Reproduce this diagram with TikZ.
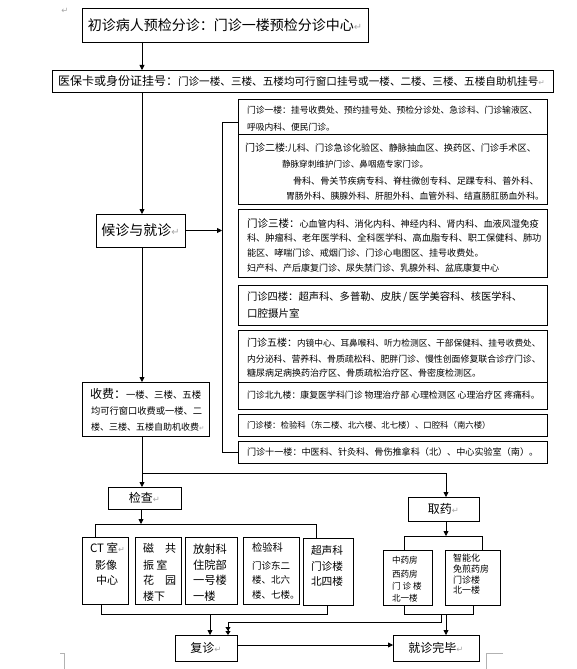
\documentclass[tikz,border=0pt]{standalone}
\usepackage{fontspec}
\usepackage{graphicx}
\setmainfont{Noto Sans CJK SC}
\newfontfamily\dvfont{DejaVu Sans}
\usetikzlibrary{arrows.meta}
\newcommand{\fsz}[1]{\fontsize{#1pt}{#1pt}\selectfont}
\newcommand{\parmark}{{\dvfont\color{gray!70}\scalebox{0.7}{↵}}}
\tikzset{
  box/.style={draw, line width=0.8pt, anchor=north west, inner sep=0pt, outer sep=0pt},
  tx/.style={anchor=west, inner sep=0pt, outer sep=0pt},
  ln/.style={line width=0.8pt},
  arr/.style={line width=0.8pt, -{Triangle[length=5pt,width=5pt]}},
  dblarr/.style={line width=0.8pt, -{Triangle[length=4pt,width=5pt]Triangle[length=4pt,width=5pt]}},
  pagemark/.style={line width=0.6pt, gray!60}
}
\begin{document}
\begin{tikzpicture}[x=1pt,y=-1pt]
\useasboundingbox (0,0) rectangle (577,669);
% junction coordinates
\coordinate (cx) at (142,0);
\coordinate (bx) at (222,232);
\coordinate (bt) at (222,122);
\coordinate (bb) at (222,452);
\coordinate (j1) at (142,473);
\coordinate (qx) at (446,0);
\coordinate (ex) at (141,524);
\coordinate (s1l) at (95,524);
\coordinate (s1r) at (316,524);
\coordinate (m1l) at (101,614);
\coordinate (m1r) at (327,614);
\coordinate (mf) at (210,614);
\coordinate (qs) at (446,536);
\coordinate (q1l) at (404,536);
\coordinate (q1r) at (482,536);
\coordinate (q2l) at (404,614);
\coordinate (q2r) at (473,614);
\coordinate (qm) at (446,614);
\coordinate (rb1) at (441,614);
\coordinate (rb2) at (441,622);
\coordinate (rb3) at (228,622);
\coordinate (hy) at (0,645);

% page marks
\node[inner sep=0pt] (pm0) at (65,11) {\fsz{12}\parmark};
\draw[pagemark] (60,653) -- (64,653) -- (64,669);
\draw[pagemark] (503,653) -- (486,653) -- (486,669);

% main column
\node[box, minimum width=286pt, minimum height=34pt, font=\fsz{14}] (n1) at (82,8) {\raisebox{-2pt}{初诊病人预检分诊：门诊一楼预检分诊中心\parmark}};
\node[box, minimum width=501pt, minimum height=22pt] (n2) at (52,70) {};
\node[tx] (n2t) at (58,81) {{\fsz{12}医保卡或身份证挂号：}{\fsz{10.6}门诊一楼、三楼、五楼均可行窗口挂号或一楼、二楼、三楼、五楼自助机挂号}{\fsz{11}\parmark}};
\node[box, minimum width=89pt, minimum height=33pt, font=\fsz{14}] (n3) at (96,214) {\raisebox{-1pt}{候诊与就诊\parmark}};
\node[box, minimum width=127pt, minimum height=54pt] (n4) at (82,382) {};
\node[tx] (n4a) at (90,394) {{\fsz{12}收费：}{\fsz{9.4}一楼、三楼、五楼}};
\node[tx, font=\fsz{9.25}] (n4b) at (91,411) {均可行窗口收费或一楼、二};
\node[tx, font=\fsz{9}] (n4c) at (91,427) {楼、三楼、五楼自助机收费\parmark};

% right column
\node[box, minimum width=309pt, minimum height=35pt] (r1) at (238,99) {};
\node[box, minimum width=309pt, minimum height=70pt] (r2) at (238,134) {};
\node[box, minimum width=309pt, minimum height=68pt] (r3) at (238,209) {};
\node[box, minimum width=309pt, minimum height=40pt] (r4) at (238,285) {};
\node[box, minimum width=309pt, minimum height=52pt] (r5) at (238,330) {};
\node[box, minimum width=309pt, minimum height=27pt] (r6) at (238,382) {};
\node[box, minimum width=309pt, minimum height=22pt] (r7) at (238,414) {};
\node[box, minimum width=309pt, minimum height=22pt] (r8) at (238,441) {};

\node[tx, font=\fsz{8.8}] (r1a) at (247,110) {门诊一楼：挂号收费处、预约挂号处、预检分诊处、急诊科、门诊输液区、};
\node[tx, font=\fsz{8.8}] (r1b) at (247,127) {呼吸内科、便民门诊。};

\node[tx] (r2a) at (245,148) {{\fsz{10}门诊二楼}{\fsz{9.2}:儿科、门诊急诊化验区、静脉抽血区、换药区、门诊手术区、}};
\node[tx, font=\fsz{8.6}] (r2b) at (282,164) {静脉穿刺维护门诊、鼻咽癌专家门诊。};
\node[tx, font=\fsz{9.1}] (r2c) at (293,181) {骨科、骨关节疾病专科、脊柱微创专科、足踝专科、普外科、};
\node[tx, font=\fsz{8.9}] (r2d) at (286,196) {胃肠外科、胰腺外科、肝胆外科、血管外科、结直肠肛肠血外科。};

\node[tx] (r3a) at (247,223) {{\fsz{10.5}门诊三楼：}{\fsz{9.2}心血管内科、消化内科、神经内科、肾内科、血液风湿免疫}};
\node[tx, font=\fsz{9.2}] (r3b) at (247,238) {科、肿瘤科、老年医学科、全科医学科、高血脂专科、职工保健科、肺功};
\node[tx, font=\fsz{9.1}] (r3c) at (247,253) {能区、哮喘门诊、戒烟门诊、门诊心电图区、挂号收费处。};
\node[tx, font=\fsz{9}] (r3d) at (247,268) {妇产科、产后康复门诊、尿失禁门诊、乳腺外科、盆底康复中心};

\node[tx, font=\fsz{10.3}] (r4a) at (247,297) {门诊四楼：超声科、多普勒、皮肤\,/\,医学美容科、核医学科、};
\node[tx, font=\fsz{10.5}] (r4b) at (247,313) {口腔摄片室};

\node[tx] (r5a) at (247,343) {{\fsz{10}门诊五楼：}{\fsz{8.7}内镜中心、耳鼻喉科、听力检测区、干部保健科、挂号收费处、}};
\node[tx, font=\fsz{8.9}] (r5b) at (247,359) {内分泌科、营养科、骨质疏松科、肥胖门诊、慢性创面修复联合诊疗门诊、};
\node[tx, font=\fsz{9}] (r5c) at (247,373) {糖尿病足病换药治疗区、骨质疏松治疗区、骨密度检测区。};

\node[tx, font=\fsz{8.9}] (r6a) at (247,395) {门诊北九楼：康复医学科门诊 物理治疗部 心理检测区 心理治疗区 疼痛科。};
\node[tx, font=\fsz{8.4}] (r7a) at (247,425) {门诊楼：检验科（东二楼、北六楼、北七楼）、口腔科（南六楼）};
\node[tx, font=\fsz{9.1}] (r8a) at (247,452) {门诊十一楼：中医科、针灸科、骨伤推拿科（北）、中心实验室（南）。};

% examinations
\node[box, minimum width=73pt, minimum height=22pt, font=\fsz{12}] (n5) at (108,487) {检查\parmark};
\node[box, minimum width=46pt, minimum height=67pt] (b1) at (82,537) {};
\node[box, minimum width=46pt, minimum height=67pt] (b2) at (135,537) {};
\node[box, minimum width=52pt, minimum height=67pt] (b3) at (185,537) {};
\node[box, minimum width=56pt, minimum height=67pt] (b4) at (243,537) {};
\node[box, minimum width=50pt, minimum height=67pt] (b5) at (303,538) {};

\node[tx, font=\fsz{11.5}] (b1a) at (90,548) {CT 室\parmark};
\node[tx, font=\fsz{11}] (b1b) at (95,565) {影像};
\node[tx, font=\fsz{11}] (b1c) at (96,580) {中心};

\node[tx, font=\fsz{11}] (b2a) at (143,548) {磁　共};
\node[tx, font=\fsz{11}] (b2b) at (143,565) {振 室};
\node[tx, font=\fsz{11}] (b2c) at (143,580) {花　园};
\node[tx, font=\fsz{11}] (b2d) at (143,596) {楼下};

\node[tx, font=\fsz{11.3}] (b3a) at (193,549) {放射科};
\node[tx, font=\fsz{11.3}] (b3b) at (193,565) {住院部};
\node[tx, font=\fsz{11.3}] (b3c) at (193,580) {一号楼};
\node[tx, font=\fsz{11.3}] (b3d) at (193,596) {一楼};

\node[tx, font=\fsz{10.3}] (b4a) at (252,548) {检验科};
\node[tx, font=\fsz{9.5}] (b4b) at (252,566) {门诊东二};
\node[tx, font=\fsz{9.5}] (b4c) at (252,580) {楼、北六};
\node[tx, font=\fsz{9.5}] (b4d) at (252,595) {楼、七楼。};

\node[tx, font=\fsz{10.7}] (b5a) at (311,550) {超声科};
\node[tx, font=\fsz{10.7}] (b5b) at (311,566) {门诊楼};
\node[tx, font=\fsz{10.7}] (b5c) at (311,581) {北四楼};

% pharmacy
\node[box, minimum width=71pt, minimum height=24pt, font=\fsz{12}] (n6) at (408,497) {取药\parmark};
\node[box, minimum width=49pt, minimum height=55pt] (d1) at (383,550) {};
\node[box, minimum width=55pt, minimum height=55pt] (d2) at (445,550) {};

\node[tx, font=\fsz{8.6}] (d1a) at (392,560) {中药房};
\node[tx, font=\fsz{8.6}] (d1b) at (392,574) {西药房};
\node[tx, font=\fsz{8.6}] (d1c) at (392,586) {门 诊 楼};
\node[tx, font=\fsz{8.6}] (d1d) at (392,598) {北一楼};

\node[tx, font=\fsz{9}] (d2a) at (453,558) {智能化};
\node[tx, font=\fsz{9}] (d2b) at (453,569) {免煎药房};
\node[tx, font=\fsz{9}] (d2c) at (453,580) {门诊楼};
\node[tx, font=\fsz{9}] (d2d) at (453,590) {北一楼};

% end boxes
\node[box, minimum width=62pt, minimum height=26pt, font=\fsz{12}] (n7) at (175,635) {复诊\parmark};
\node[box, minimum width=86pt, minimum height=26pt, font=\fsz{12}] (n8) at (393,635) {就诊完毕\parmark};

% connectors
\draw[arr] (n1.south -| cx) -- (n2.north -| cx);
\draw[arr] (n2.south -| cx) -- (n3.north -| cx);
\draw[arr] (n3.south -| cx) -- (n4.north -| cx);
\draw[arr] (n3.east) -- (n3.east -| bx);
\draw[ln] (r1.west |- bt) -- (bt) -- (bb) -- (r8.west |- bb);

\draw[ln] (n4.south -| j1) -- (j1);
\draw[arr] (j1) -- (n5.north -| j1);
\draw[arr] (j1) -| (n6.north -| qx);

\draw[arr] (n5.south -| ex) -- (ex);
\draw[ln] (b1.north -| s1l) -- (s1l) -- (s1r) -- (b5.north -| s1r);
\draw[ln] (b1.south -| m1l) -- (m1l) -- (m1r) -- (b5.south -| m1r);
\draw[arr] (mf) -- (n7.north -| mf);

\draw[arr] (n6.south -| qs) -- (qs);
\draw[ln] (d1.north -| q1l) -- (q1l) -- (q1r) -- (d2.north -| q1r);
\draw[ln] (d1.south -| q2l) -- (q2l) -- (q2r) -- (d2.south -| q2r);
\draw[arr] (qm) -- (n8.north -| qm);
\draw[dblarr] (rb1) -- (rb2) -- (rb3) -- (n7.north -| rb3);

\draw[arr] (n7.east |- hy) -- (n8.west |- hy);
\end{tikzpicture}
\end{document}
